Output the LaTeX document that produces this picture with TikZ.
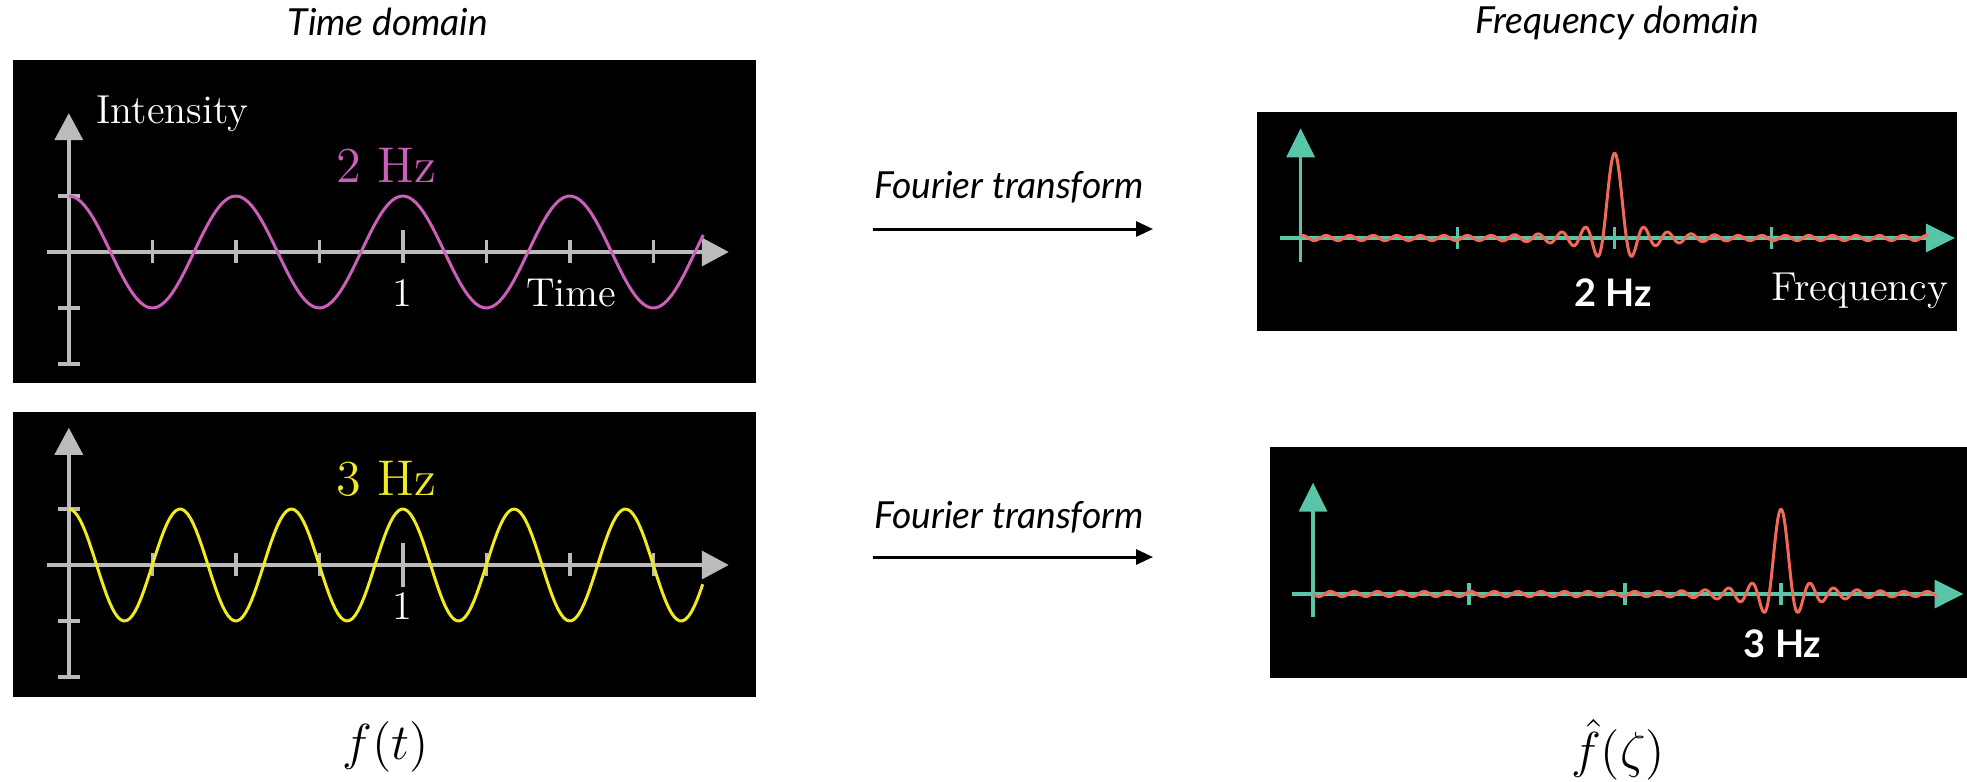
\documentclass[tikz,border=0pt]{standalone}
\usepackage{fontspec}
\newfontfamily\lato{Lato}
\usepackage{tikz}
\usetikzlibrary{arrows.meta,positioning}

\definecolor{wavepink}{RGB}{205,95,188}
\definecolor{waveyellow}{RGB}{240,234,35}
\definecolor{specred}{RGB}{242,106,86}
\definecolor{specteal}{RGB}{88,196,168}
\definecolor{axisgray}{RGB}{187,187,187}

\begin{document}
\begin{tikzpicture}[x=0.1mm, y=-0.1mm,
  panel/.style={fill=black, draw=none},
  caption/.style={font=\lato\itshape\fontsize{10.6}{12}\selectfont, inner sep=0},
  axislabel/.style={text=white, font=\fontsize{11.5}{13}\selectfont, inner sep=0},
  hzlabel/.style={font=\fontsize{14.3}{16}\selectfont, inner sep=0},
  peaklabel/.style={text=white, font=\lato\bfseries\fontsize{10.8}{12}\selectfont, inner sep=0},
  mathlabel/.style={font=\fontsize{13.5}{15}\selectfont, inner sep=0},
  gridaxis/.style={axisgray, line width=1pt},
  grayarrow/.style={gridaxis, -{Triangle[length=2.7mm, width=2.8mm]}},
  tealaxis/.style={specteal, line width=1pt},
  tealarrow/.style={tealaxis, -{Triangle[length=2.9mm, width=2.8mm]}},
  wave/.style={line width=0.85pt, line join=round},
  ftarrow/.style={line width=0.85pt, -{Triangle[length=1.7mm, width=1.5mm]}},
  declare function={lobe(\v)=sin(2400*abs(\v))*max(1/max(41.888*abs(\v),0.001),0.03);},
]
\useasboundingbox (0,0) rectangle (1967,781);

% panels
\fill[panel] (12.5,60) rectangle (756,383);
\fill[panel] (12.5,412) rectangle (756,697);
\fill[panel] (1257,112) rectangle (1957,331);
\fill[panel] (1270,447) rectangle (1967,678);

% titles
\node[caption] (tdom) at (388,22) {Time domain};
\node[caption] (fdom) at (1617,23) {Frequency domain};

% time domain, 2 Hz
\begin{scope}[shift={(68.8,252)}, x=33.4mm, y=5.6mm]
  \draw[grayarrow] (-0.066,0) -- (1.976,0);
  \draw[grayarrow] (0,-2) -- (0,2.48);
  \foreach \t in {0.25,0.5,0.75,1.25,1.5,1.75}
    \draw[gridaxis] (\t,-0.2) -- (\t,0.21);
  \draw[gridaxis] (1,-0.2) -- (1,0.39);
  \foreach \a in {1,-1,-2}
    \draw[gridaxis] (-0.033,\a) -- (0.033,\a);
  \draw[wave, wavepink] plot[domain=0:1.9, samples=160] (\x,{cos(720*\x)});
  \node[axislabel, anchor=base west] (intens) at (0.081,2.3) {Intensity};
  \node[hzlabel, text=wavepink, anchor=base] (hz2) at (0.95,1.25) {2 Hz};
  \node[axislabel, anchor=base] (one2) at (1,-0.98) {1};
  \node[axislabel, anchor=base west] (timelbl) at (1.367,-0.98) {Time};
\end{scope}

% time domain, 3 Hz
\begin{scope}[shift={(68.8,565)}, x=33.4mm, y=5.6mm]
  \draw[grayarrow] (-0.066,0) -- (1.976,0);
  \draw[grayarrow] (0,-2) -- (0,2.45);
  \foreach \t in {0.25,0.5,0.75,1.25,1.5,1.75}
    \draw[gridaxis] (\t,-0.2) -- (\t,0.21);
  \draw[gridaxis] (1,-0.39) -- (1,0.39);
  \foreach \a in {1,-1,-2}
    \draw[gridaxis] (-0.033,\a) -- (0.033,\a);
  \draw[wave, waveyellow] plot[domain=0:1.9, samples=220] (\x,{cos(1080*\x)});
  \node[hzlabel, text=waveyellow, anchor=base] (hz3) at (0.95,1.25) {3 Hz};
  \node[axislabel, anchor=base] (one3) at (1,-0.98) {1};
\end{scope}

% frequency domain, peak at 2
\begin{scope}[shift={(1300.6,238)}, x=15.7mm, y=8.5mm]
  \draw[tealarrow] (-0.131,0) -- (4.168,0);
  \draw[tealarrow] (0,-0.28) -- (0,1.29);
  \foreach \f in {1,2,3}
    \draw[tealaxis] (\f,-0.13) -- (\f,0.13);
  \draw[wave, specred] plot[domain=0:4, samples=500] (\x,{lobe(\x-2)});
  \node[peaklabel, anchor=base] (pk2) at (1.99,-0.81) {2 Hz};
  \node[axislabel, anchor=base west] (freqlbl) at (2.996,-0.73) {Frequency};
\end{scope}

% frequency domain, peak at 3
\begin{scope}[shift={(1313,594)}, x=15.6mm, y=8.5mm]
  \draw[tealarrow] (-0.135,0) -- (4.17,0);
  \draw[tealarrow] (0,-0.27) -- (0,1.31);
  \foreach \f in {1,2,3}
    \draw[tealaxis] (\f,-0.13) -- (\f,0.13);
  \draw[wave, specred] plot[domain=0:4, samples=500] (\x,{lobe(\x-3)});
  \node[peaklabel, anchor=base] (pk3) at (3.01,-0.75) {3 Hz};
\end{scope}

% transforms
\node[caption] (ftlbl2) at (1009,187) {Fourier transform};
\coordinate (ftsrc2) at (873,229);
\coordinate (ftdst2) at (1153,229);
\draw[ftarrow] (ftsrc2) -- (ftdst2);
\node[caption] (ftlbl3) at (1009,517) {Fourier transform};
\coordinate (ftsrc3) at (873,557);
\coordinate (ftdst3) at (1153,557);
\draw[ftarrow] (ftsrc3) -- (ftdst3);

% function names
\node[mathlabel] (fofteq) at (386,747) {$f(t)$};
\node[mathlabel] (fhateq) at (1618,750) {$\hat{f}(\zeta)$};
\end{tikzpicture}
\end{document}
